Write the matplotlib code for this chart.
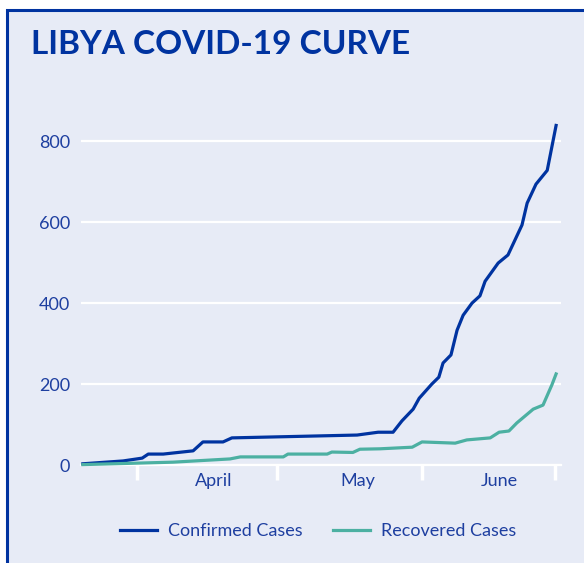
import matplotlib
matplotlib.use("Agg")
import matplotlib.pyplot as plt
from matplotlib.patches import Rectangle
from matplotlib.lines import Line2D

# days counted from 1 April 2020
confirmed_day = [-11.6, -3.0, 1.1, 2.4, 5.6, 12.0, 14.1, 18.4, 20.3, 47.1, 51.6, 54.8,
                 56.7, 59.1, 60.4, 63.1, 64.6, 65.5, 67.2, 68.5, 69.8, 71.7, 73.4,
                 74.5, 77.3, 79.4, 82.4, 83.5, 85.4, 87.8, 89.7]
confirmed = [3, 10, 17, 27, 27, 35, 57, 57, 67, 74, 81, 81,
             109, 138, 165, 200, 217, 252, 272, 333, 370, 400, 418,
             454, 499, 519, 593, 647, 694, 728, 839]

recovered_day = [-11.6, 7.7, 19.9, 22.1, 31.3, 32.3, 40.7, 41.7, 46.2, 47.7, 52.0,
                 58.9, 61.0, 68.1, 70.6, 75.6, 77.5, 79.6, 81.3, 84.8, 86.9, 88.8, 89.7]
recovered = [1, 7, 15, 20, 20, 27, 27, 32, 31, 39, 40,
             44, 57, 54, 62, 67, 81, 84, 104, 138, 148, 198, 225]

month_edges = [0, 30, 61, 89.5]
month_mid = [16.3, 47.3, 77.6]
month_names = ["April", "May", "June"]
yticks = [0, 200, 400, 600, 800]

blue = "#0033a0"
teal = "#4cb0a2"
text_blue = "#1e3fa0"
bg = "#e7ebf6"

plt.rcParams["font.family"] = ["Lato", "DejaVu Sans"]

fig = plt.figure(figsize=(5.84, 5.63), dpi=100)
fig.patch.set_facecolor("white")
fig.patches.append(Rectangle((7 / 584, -0.05), 1.0, 1 - 10 / 563 + 0.05,
                             transform=fig.transFigure, facecolor=bg,
                             edgecolor=blue, lw=2.2, zorder=-1))

fig.text(31 / 584, 1 - 54 / 563, "LIBYA COVID-19 CURVE", fontsize=24,
         fontweight="bold", color=blue, va="baseline", ha="left")

ax = fig.add_axes([81 / 584, 98 / 563, 480 / 584, 344 / 563])
ax.set_facecolor(bg)
ax.patch.set_alpha(0)
ax.set_zorder(1)

ax.plot(confirmed_day, confirmed, color=blue, lw=2.3, clip_on=False, zorder=3)
ax.plot(recovered_day, recovered, color=teal, lw=2.3, clip_on=False, zorder=3)

ax.set_xlim(-12, 90.75)
ax.set_ylim(0, 850)

ax.set_yticks(yticks)
ax.set_yticklabels([str(v) for v in yticks])
ax.yaxis.grid(True, color="white", lw=1.6)
ax.set_axisbelow(True)
ax.tick_params(axis="y", length=0, pad=8, labelsize=13, labelcolor=text_blue)

ax.set_xticks(month_edges)
ax.set_xticklabels([""] * len(month_edges))
ax.set_xticks(month_mid, minor=True)
ax.set_xticklabels(month_names, minor=True)
ax.tick_params(axis="x", which="major", length=11, width=2.5, color="white")
ax.tick_params(axis="x", which="minor", length=0, pad=6, labelsize=13,
               labelcolor=text_blue)

for s in ["top", "right", "left"]:
    ax.spines[s].set_visible(False)
ax.spines["bottom"].set_color("white")
ax.spines["bottom"].set_linewidth(1.6)

handles = [Line2D([], [], color=blue, lw=2.3), Line2D([], [], color=teal, lw=2.3)]
leg = fig.legend(handles, ["Confirmed Cases", "Recovered Cases"], ncol=2,
                 loc="center", bbox_to_anchor=(318 / 584, 1 - 531 / 563),
                 frameon=False, fontsize=13, handlelength=2.05, columnspacing=1.7,
                 handletextpad=0.6)
for t in leg.get_texts():
    t.set_color(text_blue)

fig.savefig("out.png", dpi=100)
